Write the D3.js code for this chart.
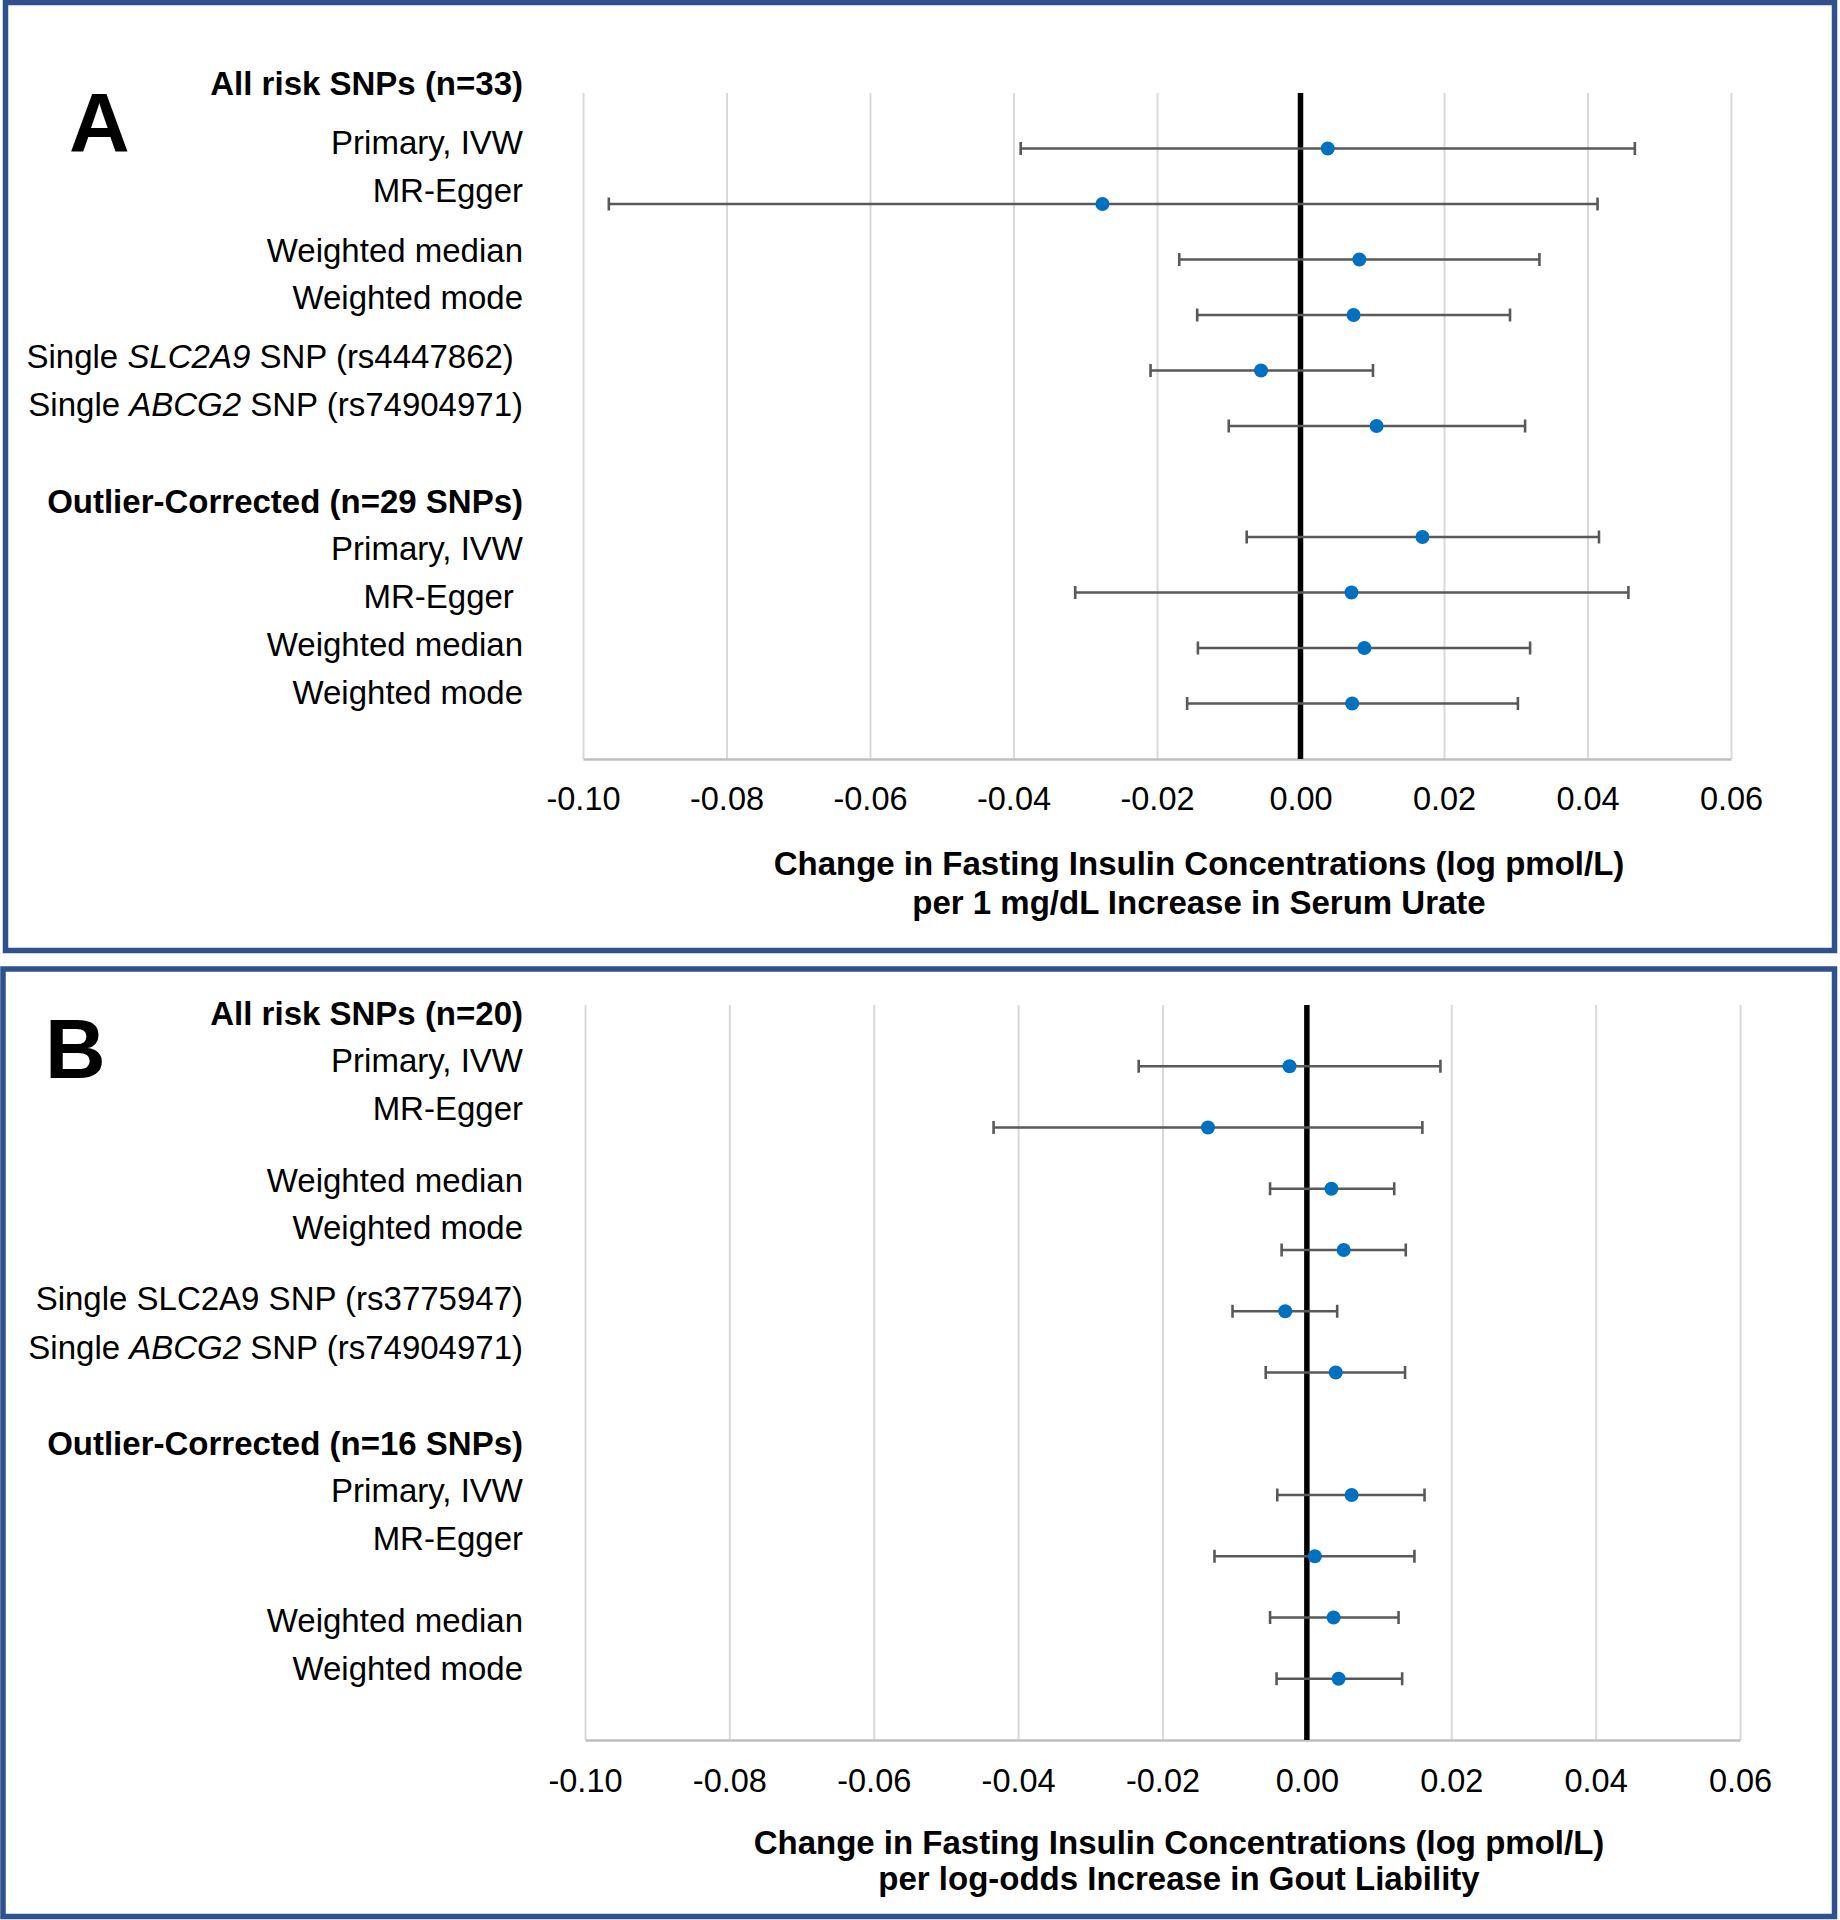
<!DOCTYPE html>
<html>
<head>
<meta charset="utf-8">
<script src="https://cdn.jsdelivr.net/npm/d3@7"></script>
<style>
  body { margin: 0; background: #fff; }
  svg text { font-family: "Liberation Sans", Arial, sans-serif; fill: #000; }
  .lbl { white-space: pre; }
</style>
</head>
<body>
<div id="chart"></div>
<script>
// ---- data ----
// row slot on the hidden y axis (0..12), top row = 11, slot 5 left empty
const rowSlots = [11, 10, 9, 8, 7, 6, 4, 3, 2, 1];

const estA = [0.0038, -0.0276, 0.0082, 0.0074, -0.0055, 0.0106, 0.0170, 0.0071, 0.0089, 0.0072];
const lowA = [-0.0390, -0.0964, -0.0169, -0.0144, -0.0209, -0.0100, -0.0075, -0.0314, -0.0143, -0.0158];
const highA = [0.0466, 0.0414, 0.0333, 0.0292, 0.0101, 0.0313, 0.0416, 0.0457, 0.0320, 0.0303];

const estB = [-0.0024, -0.0137, 0.0034, 0.0051, -0.0030, 0.0040, 0.0062, 0.0011, 0.0037, 0.0044];
const lowB = [-0.0233, -0.0434, -0.0051, -0.0035, -0.0103, -0.0057, -0.0041, -0.0128, -0.0051, -0.0042];
const highB = [0.0185, 0.0160, 0.0121, 0.0137, 0.0042, 0.0136, 0.0163, 0.0149, 0.0127, 0.0132];

const xTicks = [-0.10, -0.08, -0.06, -0.04, -0.02, 0.00, 0.02, 0.04, 0.06];

// label text: [plain, italic, plain] pieces, bold flag for group headers
const labelsA = [
  { parts: ["All risk SNPs (n=33)"], bold: true },
  { parts: ["Primary, IVW"] },
  { parts: ["MR-Egger"] },
  { parts: ["Weighted median"] },
  { parts: ["Weighted mode"] },
  { parts: ["Single ", "SLC2A9", " SNP (rs4447862) "] },
  { parts: ["Single ", "ABCG2", " SNP (rs74904971)"] },
  { parts: ["Outlier-Corrected (n=29 SNPs)"], bold: true },
  { parts: ["Primary, IVW"] },
  { parts: ["MR-Egger "] },
  { parts: ["Weighted median"] },
  { parts: ["Weighted mode"] }
];
const labelsB = [
  { parts: ["All risk SNPs (n=20)"], bold: true },
  { parts: ["Primary, IVW"] },
  { parts: ["MR-Egger"] },
  { parts: ["Weighted median"] },
  { parts: ["Weighted mode"] },
  { parts: ["Single SLC2A9 SNP (rs3775947)"] },
  { parts: ["Single ", "ABCG2", " SNP (rs74904971)"] },
  { parts: ["Outlier-Corrected (n=16 SNPs)"], bold: true },
  { parts: ["Primary, IVW"] },
  { parts: ["MR-Egger"] },
  { parts: ["Weighted median"] },
  { parts: ["Weighted mode"] }
];

const titleA = ["Change in Fasting Insulin Concentrations (log pmol/L)", "per 1 mg/dL Increase in Serum Urate"];
const titleB = ["Change in Fasting Insulin Concentrations (log pmol/L)", "per log-odds Increase in Gout Liability"];

// ---- layout ----
const W = 1840, H = 1920;
const svg = d3.select("#chart").append("svg")
  .attr("width", W)
  .attr("height", H);

const panels = [
  {
    letter: "A", est: estA, low: lowA, high: highA, labels: labelsA, title: titleA,
    box: { x: 5.5, y: 2.5, w: 1829, h: 948 },
    letterPos: [69, 152],
    x0: 583, x1: 1731, top: 93, bottom: 759,
    labelY: [83, 142, 190, 250, 297, 356, 404, 501, 548, 596, 644, 692],
    tickGap: 28, titleX: 1199, titleY: [863, 902]
  },
  {
    letter: "B", est: estB, low: lowB, high: highB, labels: labelsB, title: titleB,
    box: { x: 3, y: 969, w: 1831.5, h: 947.5 },
    letterPos: [45, 1078],
    x0: 585, x1: 1740, top: 1005, bottom: 1740,
    labelY: [1013, 1060, 1108, 1180, 1227, 1298, 1347, 1443, 1490, 1538, 1620, 1668],
    tickGap: 29, titleX: 1179, titleY: [1842, 1878]
  }
];

const labelRight = 523;

panels.forEach(p => {
  const g = svg.append("g");

  // panel frame
  g.append("rect")
    .attr("x", p.box.x).attr("y", p.box.y)
    .attr("width", p.box.w).attr("height", p.box.h)
    .attr("fill", "none")
    .attr("stroke", "#2F528F")
    .attr("stroke-width", 5.5);

  const x = d3.scaleLinear().domain([-0.10, 0.06]).range([p.x0, p.x1]);
  const y = d3.scaleLinear().domain([0, 12]).range([p.bottom, p.top]);

  // vertical gridlines
  const grid = g.append("g")
    .attr("transform", `translate(0,${p.bottom})`)
    .call(d3.axisBottom(x).tickValues(xTicks).tickSize(-(p.bottom - p.top)).tickFormat(""));
  grid.select(".domain").remove();
  grid.selectAll(".tick line").attr("stroke", "#d9d9d9").attr("stroke-width", 2);

  // x axis with labels
  const ax = g.append("g")
    .attr("transform", `translate(0,${p.bottom})`)
    .call(d3.axisBottom(x).tickValues(xTicks).tickSize(0).tickSizeOuter(0)
      .tickPadding(p.tickGap).tickFormat(d3.format(".2f")));
  ax.select(".domain").attr("stroke", "#bfbfbf").attr("stroke-width", 2.5);
  ax.selectAll(".tick text")
    .attr("font-size", 32.5)
    .style("font-family", "'Liberation Sans', Arial, sans-serif")
    .attr("fill", "#000")
    .text(d => d3.format(".2f")(d).replace("−", "-"));

  // zero reference line
  g.append("line")
    .attr("x1", x(0)).attr("x2", x(0))
    .attr("y1", p.top).attr("y2", p.bottom)
    .attr("stroke", "#000").attr("stroke-width", 5.5);

  // error bars
  const rows = rowSlots.map((s, i) => ({ s, e: p.est[i], lo: p.low[i], hi: p.high[i] }));
  const bars = g.append("g").attr("stroke", "#595959").attr("stroke-width", 2.6);
  bars.selectAll(".ci")
    .data(rows)
    .enter().append("line")
    .attr("class", "ci")
    .attr("x1", d => x(d.lo)).attr("x2", d => x(d.hi))
    .attr("y1", d => y(d.s)).attr("y2", d => y(d.s));
  bars.selectAll(".cap-lo")
    .data(rows)
    .enter().append("line")
    .attr("class", "cap-lo")
    .attr("x1", d => x(d.lo)).attr("x2", d => x(d.lo))
    .attr("y1", d => y(d.s) - 6.5).attr("y2", d => y(d.s) + 6.5);
  bars.selectAll(".cap-hi")
    .data(rows)
    .enter().append("line")
    .attr("class", "cap-hi")
    .attr("x1", d => x(d.hi)).attr("x2", d => x(d.hi))
    .attr("y1", d => y(d.s) - 6.5).attr("y2", d => y(d.s) + 6.5);

  // point estimates
  g.selectAll(".pt")
    .data(rows)
    .enter().append("circle")
    .attr("class", "pt")
    .attr("cx", d => x(d.e))
    .attr("cy", d => y(d.s))
    .attr("r", 7)
    .attr("fill", "#0070C0");

  // row labels (free text boxes in the original)
  p.labels.forEach((lab, i) => {
    const t = g.append("text")
      .attr("class", "lbl")
      .attr("x", labelRight)
      .attr("y", p.labelY[i])
      .attr("text-anchor", "end")
      .attr("dominant-baseline", "central")
      .attr("font-size", 33)
      .attr("font-weight", lab.bold ? "bold" : "normal");
    lab.parts.forEach((part, k) => {
      t.append("tspan")
        .attr("font-style", k === 1 ? "italic" : "normal")
        .text(part);
    });
  });

  // axis title
  p.title.forEach((line, i) => {
    g.append("text")
      .attr("x", p.titleX)
      .attr("y", p.titleY[i])
      .attr("text-anchor", "middle")
      .attr("dominant-baseline", "central")
      .attr("font-size", 33)
      .attr("font-weight", "bold")
      .text(line);
  });

  // panel letter
  g.append("text")
    .attr("x", p.letterPos[0])
    .attr("y", p.letterPos[1])
    .attr("font-size", 84)
    .attr("font-weight", "bold")
    .text(p.letter);
});
</script>
</body>
</html>
